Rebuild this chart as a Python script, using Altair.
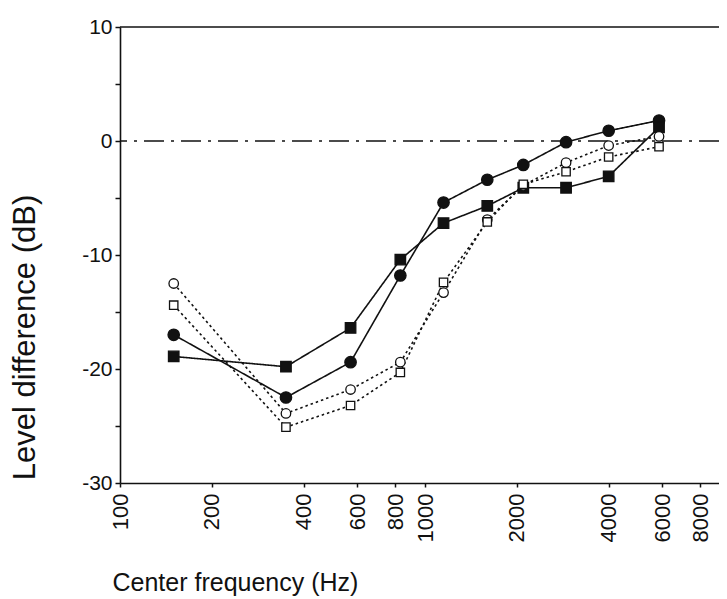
import altair as alt
import pandas as pd

freqs = [150, 350, 570, 830, 1150, 1600, 2100, 2900, 4000, 5850]
filled_circle = [-17.0, -22.5, -19.4, -11.8, -5.4, -3.4, -2.1, -0.1, 0.9, 1.8]
filled_square = [-18.9, -19.8, -16.4, -10.4, -7.2, -5.7, -4.1, -4.1, -3.1, 1.2]
open_circle = [-12.5, -23.9, -21.8, -19.4, -13.3, -6.9, -3.9, -1.9, -0.4, 0.4]
open_square = [-14.4, -25.1, -23.2, -20.3, -12.4, -7.1, -3.8, -2.7, -1.4, -0.5]

x_ticks = [100, 200, 400, 600, 800, 1000, 2000, 4000, 6000, 8000]
y_ticks = [-30, -25, -20, -15, -10, -5, 0, 5, 10]

series_names = ["fc", "fs", "oc", "os"]
rows = []
for name, vals in zip(series_names, [filled_circle, filled_square, open_circle, open_square]):
    for f, v in zip(freqs, vals):
        rows.append({"series": name, "freq": f, "level": v})
df = pd.DataFrame(rows)

FONT = "Liberation Sans"

xscale = alt.Scale(type="log", domain=[100, 9200], nice=False)
yscale = alt.Scale(domain=[-30, 10], nice=False)

x_enc = alt.X(
    "freq:Q",
    scale=xscale,
    axis=alt.Axis(
        values=x_ticks,
        format="d",
        labelAngle=270,
        labelFontSize=22,
        labelFont=FONT,
        labelColor="#111",
        labelPadding=6,
        tickSize=4,
        tickColor="#111",
        tickWidth=1.5,
        domainColor="#111",
        domainWidth=1.6,
        grid=False,
        title="Center frequency (Hz)",
        titleFont=FONT,
        titleFontSize=25,
        titleFontWeight="normal",
        titleColor="#111",
        titleX=-8,
        titleY=107,
        titleAlign="left",
        titleBaseline="alphabetic",
    ),
)
y_enc = alt.Y(
    "level:Q",
    scale=yscale,
    axis=alt.Axis(
        values=y_ticks,
        labelExpr="datum.value % 10 == 0 ? (datum.value < 0 ? '-' + abs(datum.value) : '' + datum.value) : ''",
        labelFontSize=21,
        labelFont=FONT,
        labelColor="#111",
        labelPadding=3,
        tickSize=5,
        tickColor="#111",
        tickWidth=1.5,
        domainColor="#111",
        domainWidth=1.6,
        grid=False,
        title="Level difference (dB)",
        titleFont=FONT,
        titleFontSize=31,
        titleFontWeight="normal",
        titleColor="#111",
        titleAngle=270,
        titleX=-95,
        titleY=310,
        titleAlign="center",
        titleBaseline="middle",
    ),
)

zero_line = alt.Chart(pd.DataFrame({"y": [0]})).mark_rule(
    color="#111", strokeWidth=1.3, strokeDash=[20, 7, 3, 7]
).encode(y=alt.Y("y:Q", scale=yscale))

top_line = alt.Chart(pd.DataFrame({"y": [10]})).mark_rule(
    color="#111", strokeWidth=1.6
).encode(y=alt.Y("y:Q", scale=yscale))

lines = alt.Chart(df).mark_line(color="#111", strokeWidth=1.6).encode(
    x=x_enc,
    y=y_enc,
    detail="series:N",
    strokeDash=alt.StrokeDash(
        "series:N",
        scale=alt.Scale(domain=series_names, range=[[1, 0], [1, 0], [2.5, 3], [2.5, 3]]),
        legend=None,
    ),
)

points = alt.Chart(df).mark_point(filled=True, stroke="#111", strokeWidth=1.3, opacity=1).encode(
    x=alt.X("freq:Q", scale=xscale),
    y=alt.Y("level:Q", scale=yscale),
    shape=alt.Shape(
        "series:N",
        scale=alt.Scale(domain=series_names, range=["circle", "square", "circle", "square"]),
        legend=None,
    ),
    fill=alt.Fill(
        "series:N",
        scale=alt.Scale(domain=series_names, range=["#111", "#111", "white", "white"]),
        legend=None,
    ),
    size=alt.Size(
        "series:N",
        scale=alt.Scale(domain=series_names, range=[130, 70, 125, 85]),
        legend=None,
    ),
)

chart = (
    alt.layer(zero_line, top_line, lines, points)
    .properties(
        width=599,
        height=456,
        padding={"left": 112, "top": 19, "right": 0, "bottom": 116},
        autosize=alt.AutoSizeParams(type="none"),
        background="white",
    )
    .configure_view(stroke=None)
)

chart.save("out.html", embed_options={"renderer": "svg", "actions": False})
